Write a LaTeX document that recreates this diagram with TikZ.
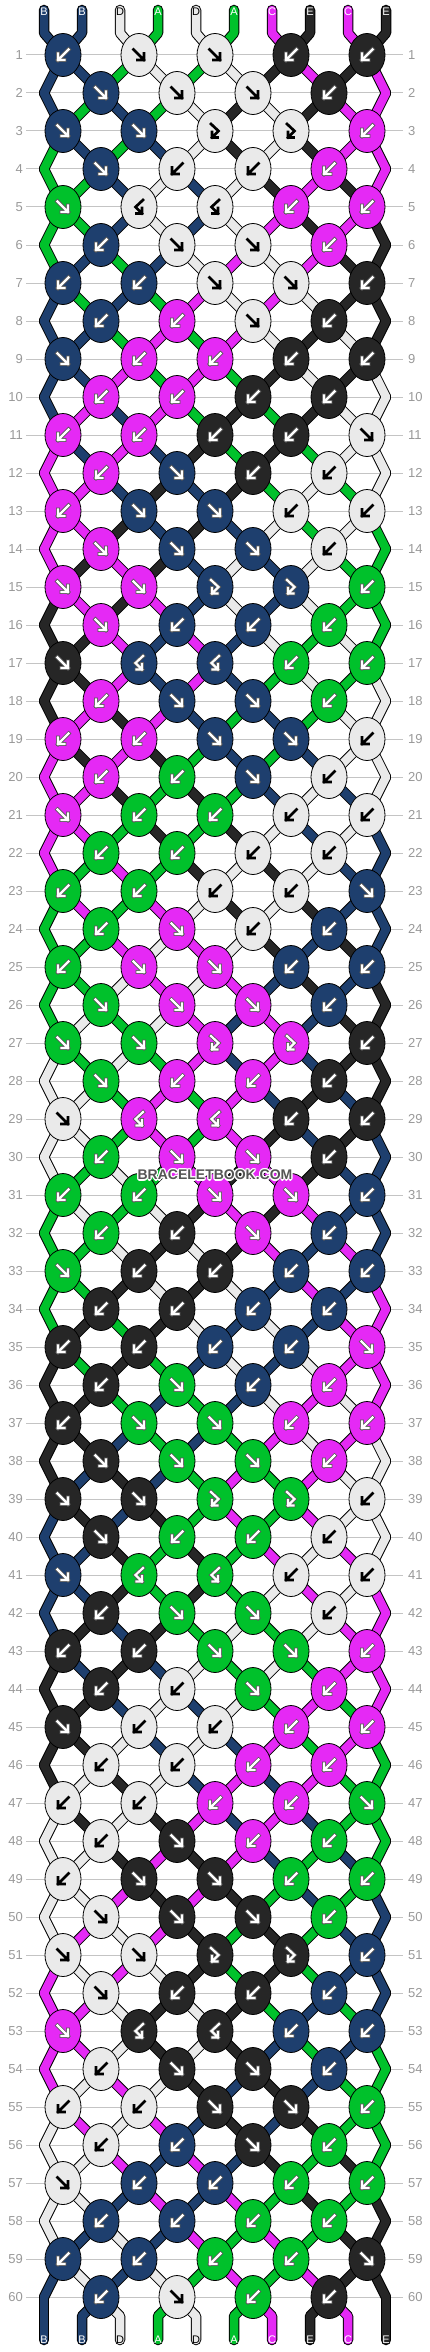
\documentclass[tikz,border=0pt]{standalone}
\usepackage{fontspec}
\setmainfont{Liberation Sans}
\usetikzlibrary{shapes.geometric,calc}
\definecolor{cB}{HTML}{1E3F6E}
\definecolor{cD}{HTML}{EAEAEA}
\definecolor{cA}{HTML}{00C12B}
\definecolor{cC}{HTML}{E529F5}
\definecolor{cE}{HTML}{262626}
\definecolor{numgray}{HTML}{999999}
\definecolor{linegray}{HTML}{C4C4C4}
\definecolor{wmgray}{HTML}{555555}
\pgfdeclarelayer{bg}
\pgfdeclarelayer{segout}
\pgfdeclarelayer{segfill}
\pgfdeclarelayer{fg}
\pgfsetlayers{bg,segout,segfill,main,fg}

\newcommand\setpt[3]{%
  \ifodd#2\relax
    \pgfmathtruncatemacro\tmpk{#3-mod(#3,2)}\edef#1{K-#2-\tmpk}%
  \else
    \ifnum#3=0\relax \edef#1{E-#2-#3}%
    \else\ifnum#3=9\relax \edef#1{E-#2-#3}%
    \else \pgfmathtruncatemacro\tmpk{#3-1+mod(#3,2)}\edef#1{K-#2-\tmpk}%
    \fi\fi
  \fi}

\newcommand\arrw[4]{%
  \draw[line width=3.9pt,draw=#3,line cap=rect,line join=miter] #1;
  \draw[line width=#4,draw=#2,line cap=rect,line join=miter] #1;}

\tikzset{
  strout/.style={line width=10.5pt, draw=black, line join=round, line cap=round},
  strin/.style={line width=8.5pt, line join=round, line cap=round},
  knot/.style={ellipse, draw=black, line width=0.8pt, minimum width=36pt, minimum height=43pt, inner sep=0pt},
  rowline/.style={draw=linegray, line width=1pt},
  rownum/.style={text=numgray, font=\fontsize{13}{13}\selectfont, inner sep=0pt},
  lab/.style={font=\fontsize{11}{11}\selectfont, inner sep=0pt},
  wmhalo/.style={text=white, font=\fontsize{14}{14}\selectfont\bfseries, inner sep=0pt},
  wmtext/.style={text=wmgray, font=\fontsize{14}{14}\selectfont\bfseries, inner sep=0pt},
}

\begin{document}
\begin{tikzpicture}[x=1pt,y=-1pt]
\useasboundingbox (0,0) rectangle (430,2352);

% initial string colours
\foreach \c [count=\i from 0] in {B,B,D,A,D,A,C,E,C,E}{%
  \expandafter\xdef\csname st\i\endcsname{\c}}

% top and bottom string ends
\foreach \pp in {0,...,9}{
  \coordinate (T-\pp) at ({44+38*\pp},10);
  \coordinate (TB-\pp) at ({44+38*\pp},33);
  \coordinate (BB-\pp) at ({44+38*\pp},2316);
  \coordinate (BE-\pp) at ({44+38*\pp},2340);
}

% knots (and simulation of the string order)
\foreach \rowdata [count=\rr] in {
 {b,f,f,b,b},{f,f,f,b},{f,f,x,x,b},{f,b,b,b},{f,y,y,b,b},{b,f,f,b},{b,b,f,f,b},{b,b,f,b},{f,b,b,b,b},{b,b,b,b},{b,b,b,b,f},{b,f,b,b},
 {b,f,f,b,b},{f,f,f,b},{f,f,x,x,b},{f,b,b,b},{f,y,y,b,b},{b,f,f,b},{b,b,f,f,b},{b,b,f,b},{f,b,b,b,b},{b,b,b,b},{b,b,b,b,f},{b,f,b,b},
 {b,f,f,b,b},{f,f,f,b},{f,f,x,x,b},{f,b,b,b},{f,y,y,b,b},{b,f,f,b},{b,b,f,f,b},{b,b,f,b},{f,b,b,b,b},{b,b,b,b},{b,b,b,b,f},{b,f,b,b},
 {b,f,f,b,b},{f,f,f,b},{f,f,x,x,b},{f,b,b,b},{f,y,y,b,b},{b,f,f,b},{b,b,f,f,b},{b,b,f,b},{f,b,b,b,b},{b,b,b,b},{b,b,b,b,f},{b,f,b,b},
 {b,f,f,b,b},{f,f,f,b},{f,f,x,x,b},{f,b,b,b},{f,y,y,b,b},{b,f,f,b},{b,b,f,f,b},{b,b,f,b},{f,b,b,b,b},{b,b,b,b},{b,b,b,b,f},{b,f,b,b}}{
  \pgfmathsetmacro\yy{55+38*(\rr-1)}
  \node[rownum,anchor=east] (nl-\rr) at (23,\yy) {\rr};
  \node[rownum,anchor=west] (nr-\rr) at (408,\yy) {\rr};
  \ifodd\rr\relax\else
    \coordinate (E-\rr-0) at (44,\yy);
    \coordinate (E-\rr-9) at (386,\yy);
  \fi
  % remember colours of the segments entering this row
  \foreach \pp in {0,...,9}{%
    \expandafter\xdef\csname sc-\rr-\pp\endcsname{\csname st\pp\endcsname}}
  \foreach \tp [count=\jj] in \rowdata {
    \ifodd\rr\relax \pgfmathtruncatemacro\kk{2*\jj-2}\else \pgfmathtruncatemacro\kk{2*\jj-1}\fi
    \pgfmathtruncatemacro\qq{\kk+1}
    \pgfmathsetmacro\xx{63+38*\kk}
    \edef\sL{\csname st\kk\endcsname}\edef\sR{\csname st\qq\endcsname}
    \if\tp f\let\kc\sL\fi
    \if\tp x\let\kc\sL\fi
    \if\tp b\let\kc\sR\fi
    \if\tp y\let\kc\sR\fi
    \node[knot,fill=c\kc] (K-\rr-\kk) at (\xx,\yy) {};
    \if D\kc \def\ac{black}\def\ao{none}\def\aw{2.7pt}\else\def\ac{white}\def\ao{black!65}\def\aw{2.2pt}\fi
    \begin{scope}[shift={(\xx,\yy)}]
      \if\tp f\arrw{(-5.5,-5.5)--(5,5) (-1.5,5)--(5,5)--(5,-1.5)}{\ac}{\ao}{\aw}\fi
      \if\tp b\arrw{(5.5,-5.5)--(-5,5) (1.5,5)--(-5,5)--(-5,-1.5)}{\ac}{\ao}{\aw}\fi
      \if\tp x\arrw{(-4,-7)--(3.5,0)--(-3,6.5) (2.5,6.5)--(-3,6.5)--(-3,1)}{\ac}{\ao}{\aw}\fi
      \if\tp y\arrw{(4,-7)--(-3.5,0)--(3,6.5) (-2.5,6.5)--(3,6.5)--(3,1)}{\ac}{\ao}{\aw}\fi
    \end{scope}
  }
  % update string order
  \foreach \tp [count=\jj] in \rowdata {
    \ifodd\rr\relax \pgfmathtruncatemacro\kk{2*\jj-2}\else \pgfmathtruncatemacro\kk{2*\jj-1}\fi
    \pgfmathtruncatemacro\qq{\kk+1}
    \edef\sL{\csname st\kk\endcsname}\edef\sR{\csname st\qq\endcsname}
    \def\swp{0}
    \if\tp f\def\swp{1}\fi
    \if\tp b\def\swp{1}\fi
    \ifnum\swp=1\relax
      \expandafter\xdef\csname st\kk\endcsname{\sR}
      \expandafter\xdef\csname st\qq\endcsname{\sL}
    \fi
  }
}
\foreach \pp in {0,...,9}{%
  \expandafter\xdef\csname sc-61-\pp\endcsname{\csname st\pp\endcsname}}

% background and row lines
\begin{pgfonlayer}{bg}
  \fill[white] (0,0) rectangle (430,2352);
  \foreach \rr in {1,...,60}{
    \draw[rowline] ($(nl-\rr.east)+(3,0)$) -- ($(nr-\rr.west)+(-5,0)$);
  }
\end{pgfonlayer}

% string outlines
\begin{pgfonlayer}{segout}
  \foreach \rr in {1,...,61}{
    \foreach \pp in {0,...,9}{
      \ifnum\rr=1\relax
        \setpt\nb{1}{\pp}
        \draw[strout] (T-\pp) -- (TB-\pp) -- (\nb.center);
      \else\ifnum\rr=61\relax
        \setpt\na{60}{\pp}
        \draw[strout] (\na.center) -- (BB-\pp) -- (BE-\pp);
      \else
        \pgfmathtruncatemacro\rp{\rr-1}
        \setpt\na{\rp}{\pp}\setpt\nb{\rr}{\pp}
        \draw[strout] (\na.center) -- (\nb.center);
      \fi\fi
    }
  }
\end{pgfonlayer}

% string fills
\begin{pgfonlayer}{segfill}
  \foreach \rr in {1,...,61}{
    \foreach \pp in {0,...,9}{
      \edef\cc{c\csname sc-\rr-\pp\endcsname}
      \ifnum\rr=1\relax
        \setpt\nb{1}{\pp}
        \draw[strin,draw=\cc] (T-\pp) -- (TB-\pp) -- (\nb.center);
      \else\ifnum\rr=61\relax
        \setpt\na{60}{\pp}
        \draw[strin,draw=\cc] (\na.center) -- (BB-\pp) -- (BE-\pp);
      \else
        \pgfmathtruncatemacro\rp{\rr-1}
        \setpt\na{\rp}{\pp}\setpt\nb{\rr}{\pp}
        \draw[strin,draw=\cc] (\na.center) -- (\nb.center);
      \fi\fi
    }
  }
\end{pgfonlayer}

% labels
\foreach \c [count=\pp from 0] in {B,B,D,A,D,A,C,E,C,E}{
  \if D\c \def\tc{black}\else\def\tc{white}\fi
  \node[lab,text=\tc] (lt-\pp) at ({44+38*\pp},12) {\c};
  \node[lab,text=\tc] (lb-\pp) at ({44+38*\pp},2340) {\c};
}

% watermark
\begin{pgfonlayer}{fg}
  \foreach \dx/\dy [count=\i] in {-1.2/0,1.2/0,0/-1.2,0/1.2,-0.9/-0.9,0.9/0.9,-0.9/0.9,0.9/-0.9}{
    \node[wmhalo] (wmh-\i) at ({215+\dx},{1175+\dy}) {BRACELETBOOK.COM};
  }
  \node[wmtext] (wm) at (215,1175) {BRACELETBOOK.COM};
\end{pgfonlayer}
\end{tikzpicture}
\end{document}
